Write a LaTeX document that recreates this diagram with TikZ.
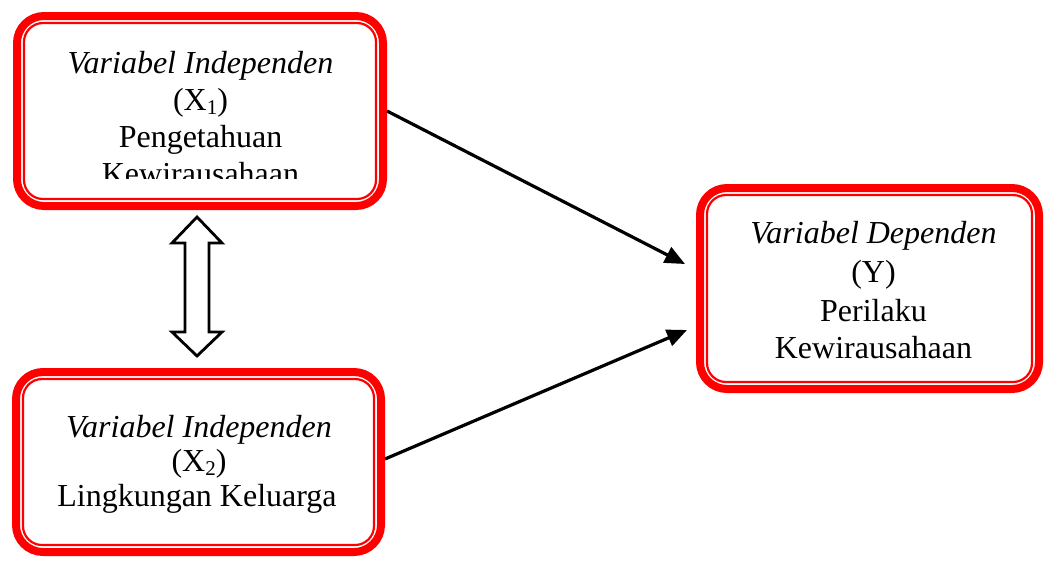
\documentclass[tikz,border=0pt]{standalone}
\usepackage{fontspec}
\setmainfont{Liberation Serif}
\usetikzlibrary{arrows.meta}
\tikzset{
  varbox/.style={draw=red, line width=8pt, rounded corners=27pt, inner sep=0pt, fill=none},
  innerline/.style={draw=red, line width=2.2pt, rounded corners=19pt},
  txt/.style={anchor=base, inner sep=0pt, font=\fontsize{32}{38}\selectfont},
  link/.style={line width=3.2pt, -{Triangle[length=20pt,width=17pt]}},
  dblarrow/.style={draw=black, line width=2.8pt, fill=white, miter limit=10}
}
\newcommand{\lowsub}[1]{\raisebox{-4pt}{\fontsize{21}{21}\selectfont #1}}
\begin{document}
\begin{tikzpicture}[x=1pt,y=-1pt]
\useasboundingbox (0,0) rectangle (1046,560);
% boxes
\node[varbox, minimum width=366pt, minimum height=190pt] (x1) at (200,111) {};
\draw[innerline] ([shift={(11,11)}]x1.north west) rectangle ([shift={(-11,-11)}]x1.south east);
\node[varbox, minimum width=365pt, minimum height=180pt] (x2) at (198.5,462) {};
\draw[innerline] ([shift={(11,11)}]x2.north west) rectangle ([shift={(-11,-11)}]x2.south east);
\node[varbox, minimum width=339pt, minimum height=201pt] (y) at (869.5,288.5) {};
\draw[innerline] ([shift={(11,11)}]y.north west) rectangle ([shift={(-11,-11)}]y.south east);
% texts box X1 (last line clipped as in the original)
\begin{scope}
\clip (13,12) rectangle (387,178);
\node[txt] (x1a) at (200.5,73) {\itshape Variabel Independen};
\node[txt] (x1b) at (200.5,110) {(X\lowsub{1})};
\node[txt] (x1c) at (200.5,147) {Pengetahuan};
\node[txt] (x1d) at (200.5,184) {Kewirausahaan};
\end{scope}
% texts box X2
\node[txt] (x2a) at (199,437) {\itshape Variabel Independen};
\node[txt] (x2b) at (199,471) {(X\lowsub{2})};
\node[txt] (x2c) at (197,506) {Lingkungan Keluarga};
% texts box Y
\node[txt] (ya) at (873.5,243) {\itshape Variabel Dependen};
\node[txt] (yb) at (873.5,282) {(Y)};
\node[txt] (yc) at (873.5,321) {Perilaku};
\node[txt] (yd) at (873.5,358) {Kewirausahaan};
% connectors
\coordinate (yin1) at (685,264);
\coordinate (yin2) at (687,330);
\draw[link] (x1.east) -- (yin1);
\draw[link] ([yshift=3]x2.east) -- (yin2);
% double arrow between X1 and X2
\draw[dblarrow] (197,217) -- (222,243) -- (209,243) -- (209,332) -- (222,332)
  -- (197,356) -- (172,332) -- (185,332) -- (185,243) -- (172,243) -- cycle;
\end{tikzpicture}
\end{document}
